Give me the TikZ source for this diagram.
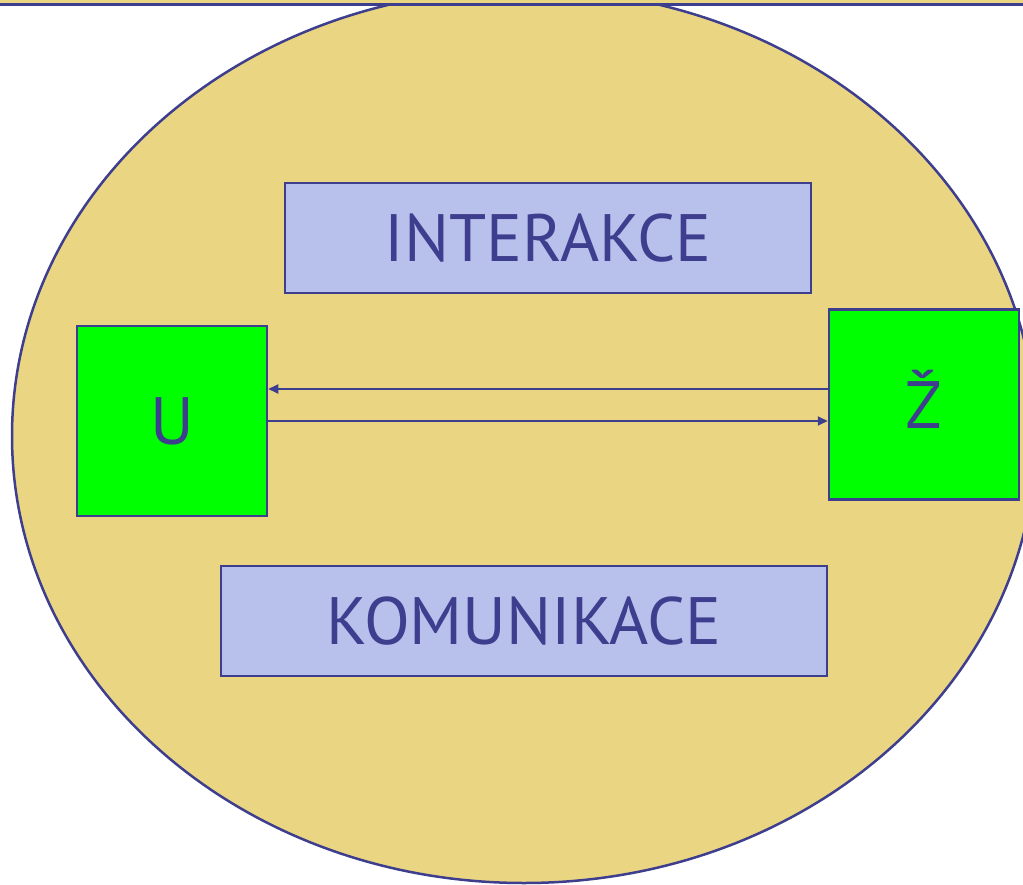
\documentclass[tikz,border=0pt]{standalone}
\usepackage{fontspec}
\setmainfont{PT Sans}
\usetikzlibrary{arrows.meta}
\definecolor{ellfill}{RGB}{234,214,130}
\definecolor{navy}{RGB}{62,62,142}
\definecolor{lav}{RGB}{184,192,236}
\definecolor{grn}{RGB}{0,255,0}
\tikzset{
  box/.style={draw=navy, line width=2.5pt, inner sep=0pt, text=navy,
    font=\fontsize{67}{72}\selectfont, text height=47pt, text depth=0pt},
  lavbox/.style={box, fill=lav},
  grnbox/.style={box, fill=grn, minimum width=190pt, minimum height=190pt},
  arr/.style={draw=navy, line width=2pt, -{Triangle[length=10pt,width=9pt]}}
}
\begin{document}
\begin{tikzpicture}[x=1pt,y=-1pt]
\useasboundingbox (0,0) rectangle (1023,885);
\begin{scope}
\clip (0,0) rectangle (1023,885);
\draw[fill=ellfill, draw=navy, line width=2.5pt] (524,436) ellipse [x radius=512, y radius=447];
\fill[ellfill] (0,0) rectangle (1023,3.3);
\fill[navy] (0,3.3) rectangle (1023,6.3);
\end{scope}
\node[lavbox, minimum width=526pt, minimum height=110pt] (inter) at (548,238) {INTERAKCE};
\node[lavbox, minimum width=606pt, minimum height=110pt] (komu) at (524,621) {KOMUNIKACE};
\node[grnbox] (U) at (172,421) {U};
\node[grnbox] (Z) at (924,404.5) {Ž};
\coordinate (ua) at ([yshift=32pt]U.east);
\draw[arr] (Z.west |- ua) -- (ua);
\draw[arr] (U.east) -- (U.east -| Z.west);
\end{tikzpicture}
\end{document}
